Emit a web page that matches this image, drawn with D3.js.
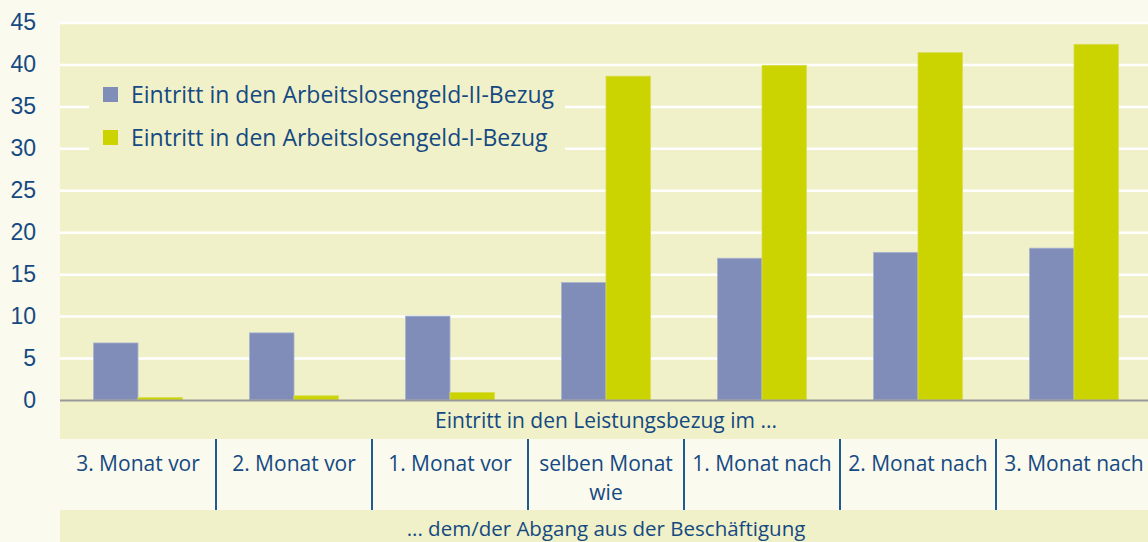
<!DOCTYPE html>
<html>
<head>
<meta charset="utf-8">
<script src="https://cdn.jsdelivr.net/npm/d3@7"></script>
<style>
  html, body { margin: 0; padding: 0; background: #fafaee; }
  svg { display: block; font-family: "Open Sans", sans-serif; }
</style>
</head>
<body>
<div id="chart"></div>
<script>
// categories and values
const categories = ["3. Monat vor", "2. Monat vor", "1. Monat vor", "selben Monat|wie", "1. Monat nach", "2. Monat nach", "3. Monat nach"];
const seriesNames = ["Eintritt in den Arbeitslosengeld-II-Bezug", "Eintritt in den Arbeitslosengeld-I-Bezug"];
const alg2 = [6.8, 8.0, 10.0, 14.0, 16.9, 17.6, 18.1];
const alg1 = [0.3, 0.5, 0.9, 38.6, 39.9, 41.4, 42.4];
const yTicks = [0, 5, 10, 15, 20, 25, 30, 35, 40, 45];
const topCaption = "Eintritt in den Leistungsbezug im ...";
const bottomCaption = "... dem/der Abgang aus der Beschäftigung";

const W = 1148, H = 542;
const left = 60, right = 1152;
const textColor = "#154982";
const plotBg = "#f0f1c8";
const colors = ["#7f8db8", "#cbd300"];

const svg = d3.select("#chart").append("svg")
    .attr("width", W)
    .attr("height", H);

const x0 = d3.scaleBand()
    .domain(categories)
    .range([left, right])
    .paddingInner(0.43)
    .paddingOuter(0.215);

const x1 = d3.scaleBand()
    .domain([0, 1])
    .range([0, x0.bandwidth()]);

const y = d3.scaleLinear()
    .domain([0, 45])
    .range([400, 22.5]);

// backgrounds
svg.append("rect").attr("x", left).attr("y", 22).attr("width", W - left).attr("height", 417).attr("fill", plotBg);
svg.append("rect").attr("x", left).attr("y", 510).attr("width", W - left).attr("height", 32).attr("fill", plotBg);

// axis with gridlines
const axis = svg.append("g")
    .attr("transform", "translate(" + left + ",0)")
    .call(d3.axisLeft(y).tickValues(yTicks).tickSize(-(W - left)).tickPadding(24));
axis.select(".domain").remove();
axis.selectAll(".tick line")
    .attr("stroke", "#fff")
    .attr("stroke-width", 2.5)
    .attr("opacity", d => d === 0 ? 0 : 1);
axis.selectAll(".tick text")
    .attr("fill", textColor)
    .style("font-size", "23px");

// legend box hides the gridlines behind it
svg.append("rect").attr("x", 89).attr("y", 76).attr("width", 476).attr("height", 84).attr("fill", plotBg);

// bars
const groups = svg.append("g")
    .selectAll("g")
    .data(categories)
    .enter()
    .append("g")
    .attr("transform", d => "translate(" + x0(d) + ",0)");

groups.selectAll("rect")
    .data((d, i) => [alg2[i], alg1[i]])
    .enter()
    .append("rect")
    .attr("x", (d, j) => x1(j))
    .attr("y", d => y(d))
    .attr("width", x1.bandwidth())
    .attr("height", d => y(0) - y(d))
    .attr("fill", (d, j) => colors[j])
    .attr("stroke", (d, j) => j === 0 ? "#aab3cf" : "#d8dc50")
    .attr("stroke-width", 0.8);

// baseline
svg.append("line")
    .attr("x1", left).attr("x2", W)
    .attr("y1", y(0) + 0.5).attr("y2", y(0) + 0.5)
    .attr("stroke", "#999")
    .attr("stroke-width", 2);

// legend
const legend = svg.append("g");
seriesNames.forEach((name, i) => {
    legend.append("rect")
        .attr("x", 103).attr("y", 87 + i * 43)
        .attr("width", 15).attr("height", 15)
        .attr("fill", colors[i]);
    legend.append("text")
        .attr("x", 131).attr("y", 95 + i * 43)
        .attr("dy", "0.36em")
        .attr("fill", textColor)
        .style("font-size", "23px")
        .text(name);
});

// captions
svg.append("text")
    .attr("x", (left + right) / 2).attr("y", 420)
    .attr("dy", "0.36em")
    .attr("text-anchor", "middle")
    .attr("fill", textColor)
    .style("font-size", "21px")
    .text(topCaption);

svg.append("text")
    .attr("x", (left + right) / 2).attr("y", 529)
    .attr("dy", "0.36em")
    .attr("text-anchor", "middle")
    .attr("fill", textColor)
    .style("font-size", "20.5px")
    .text(bottomCaption);

// category label row
const step = x0.step();
categories.forEach((c, i) => {
    const cx = left + step * (i + 0.5);
    const t = svg.append("text")
        .attr("text-anchor", "middle")
        .attr("fill", textColor)
        .style("font-size", "21px");
    c.split("|").forEach((line, k) => {
        t.append("tspan")
            .attr("x", cx)
            .attr("y", 463 + k * 29)
            .attr("dy", "0.36em")
            .text(line);
    });
    if (i > 0) {
        svg.append("line")
            .attr("x1", left + step * i).attr("x2", left + step * i)
            .attr("y1", 439).attr("y2", 510)
            .attr("stroke", "#1f5a93")
            .attr("stroke-width", 2);
    }
});
</script>
</body>
</html>
